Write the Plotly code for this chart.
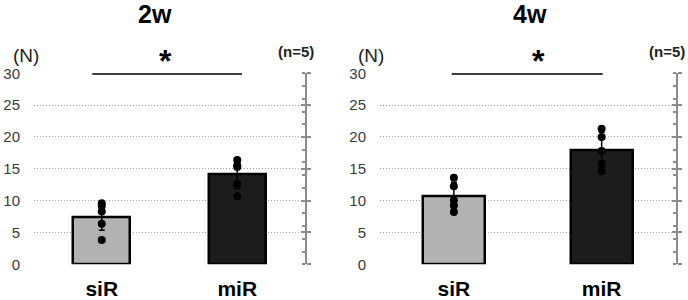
import plotly.graph_objects as go

categories = ["siR", "miR"]
titles = ["2w", "4w"]

# 2w
means_2w = [7.45, 14.2]
sd_2w = [2.1, 2.3]
pts_2w_siR = [9.6, 9.15, 8.3, 6.35, 3.8]
pts_2w_miR = [16.4, 15.5, 15.3, 12.6, 10.7]

# 4w
means_4w = [10.67, 17.95]
sd_4w = [2.2, 2.8]
pts_4w_siR = [13.6, 12.25, 10.05, 9.25, 8.2]
pts_4w_miR = [21.3, 20.0, 17.8, 15.8, 14.6]

bar_colors = ["#b2b2b2", "#1c1c1c"]
yticks = [0, 5, 10, 15, 20, 25, 30]

FONT = "Liberation Sans, Arial, sans-serif"

fig = go.Figure()

panels = [
    dict(means=means_2w, sd=sd_2w, pts=[pts_2w_siR, pts_2w_miR], x="x", y="y",
         dom=[34 / 688, 305 / 688], sig=[-0.07, 1.035], star=0.474, title="2w"),
    dict(means=means_4w, sd=sd_4w, pts=[pts_4w_siR, pts_4w_miR], x="x2", y="y2",
         dom=[380 / 688, 675.5 / 688], sig=[-0.015, 1.008], star=0.57, title="4w"),
]

ydom = [1 - 264.3 / 300, 1 - 73.3 / 300]
right_ids = [(3, 5), (4, 6)]


def ann(text, x, y, size, xref="paper", color="black"):
    fig.add_annotation(text=text, xref=xref, yref="paper", x=x, y=y, xanchor="center",
                       yanchor="middle", showarrow=False,
                       font=dict(size=size, color=color, family=FONT))


for i, p in enumerate(panels):
    fig.add_trace(go.Bar(
        x=[0, 1], y=p["means"], xaxis=p["x"], yaxis=p["y"], width=0.42,
        marker=dict(color=bar_colors, line=dict(color="black", width=2.5)),
        error_y=dict(type="data", array=p["sd"], color="black", thickness=1.5, width=3),
        showlegend=False, hoverinfo="skip"))
    for c in range(2):
        fig.add_trace(go.Scatter(
            x=[c] * len(p["pts"][c]), y=p["pts"][c], xaxis=p["x"], yaxis=p["y"],
            mode="markers", marker=dict(color="black", size=8),
            showlegend=False, hoverinfo="skip"))
    # invisible traces so the right-side axes get drawn
    for ax in right_ids[i]:
        fig.add_trace(go.Scatter(x=[0], y=[0], xaxis=p["x"], yaxis="y%d" % ax,
                                 mode="markers", marker=dict(opacity=0),
                                 showlegend=False, hoverinfo="skip"))
    # significance line
    fig.add_shape(type="line", xref=p["x"], yref=p["y"], x0=p["sig"][0], x1=p["sig"][1],
                  y0=30, y1=30, line=dict(color="black", width=3), layer="above")
    ann("<b>*</b>", p["star"], 1 - 61 / 300, 32, xref=p["x"])

layout = dict(
    width=688, height=300, margin=dict(l=0, r=0, t=0, b=0, autoexpand=False),
    plot_bgcolor="white", paper_bgcolor="white", bargap=0,
)

for i, p in enumerate(panels):
    xs = "" if i == 0 else "2"
    layout["xaxis" + xs] = dict(
        domain=p["dom"], range=[-0.5, 1.5], anchor=p["y"], automargin=False,
        tickmode="array", tickvals=[0, 1], ticktext=["<b>%s</b>" % c for c in categories],
        tickfont=dict(size=21, color="black", family=FONT), ticks="", ticklabelstandoff=10,
        showgrid=False, zeroline=False, showline=False, fixedrange=True)
    layout["yaxis" + xs] = dict(
        domain=ydom, range=[0, 30], anchor=p["x"], tickmode="array", tickvals=yticks,
        automargin=False,
        tickfont=dict(size=15, color="#3a3a3a", family=FONT), ticks="", ticklabelstandoff=13,
        showgrid=True, gridcolor="#a0a0a0", griddash="1px,2px", gridwidth=1,
        zeroline=False, showline=False)

for i, p in enumerate(panels):
    a, b = right_ids[i]
    layout["yaxis%d" % a] = dict(
        overlaying=p["y"], anchor=p["x"], side="right", range=[0, 30], automargin=False,
        showgrid=False, zeroline=False, showticklabels=False,
        showline=True, linecolor="#8c8c8c", linewidth=2,
        ticks="outside", ticklen=4, tickwidth=1.5, tickcolor="#8c8c8c", dtick=5, tick0=0,
        minor=dict(ticks="inside", dtick=2, tick0=0, ticklen=3, tickwidth=1.5, tickcolor="#8c8c8c"))
    layout["yaxis%d" % b] = dict(
        overlaying=p["y"], anchor=p["x"], side="right", range=[0, 30], automargin=False,
        showgrid=False, zeroline=False, showticklabels=False, showline=False,
        ticks="inside", ticklen=4, tickwidth=1.5, tickcolor="#8c8c8c", dtick=5, tick0=0)

fig.update_layout(**layout)

# titles & labels
ann("<b>2w</b>", 155 / 688, 1 - 14 / 300, 25)
ann("<b>4w</b>", 530 / 688, 1 - 14 / 300, 25)
for cx in [26, 371]:
    ann("(N)", cx / 688, 1 - 55 / 300, 19, color="#222")
for cx in [296, 667]:
    ann("<b>(n=5)</b>", cx / 688, 1 - 51 / 300, 15, color="#222")

fig.write_html("out.html")
